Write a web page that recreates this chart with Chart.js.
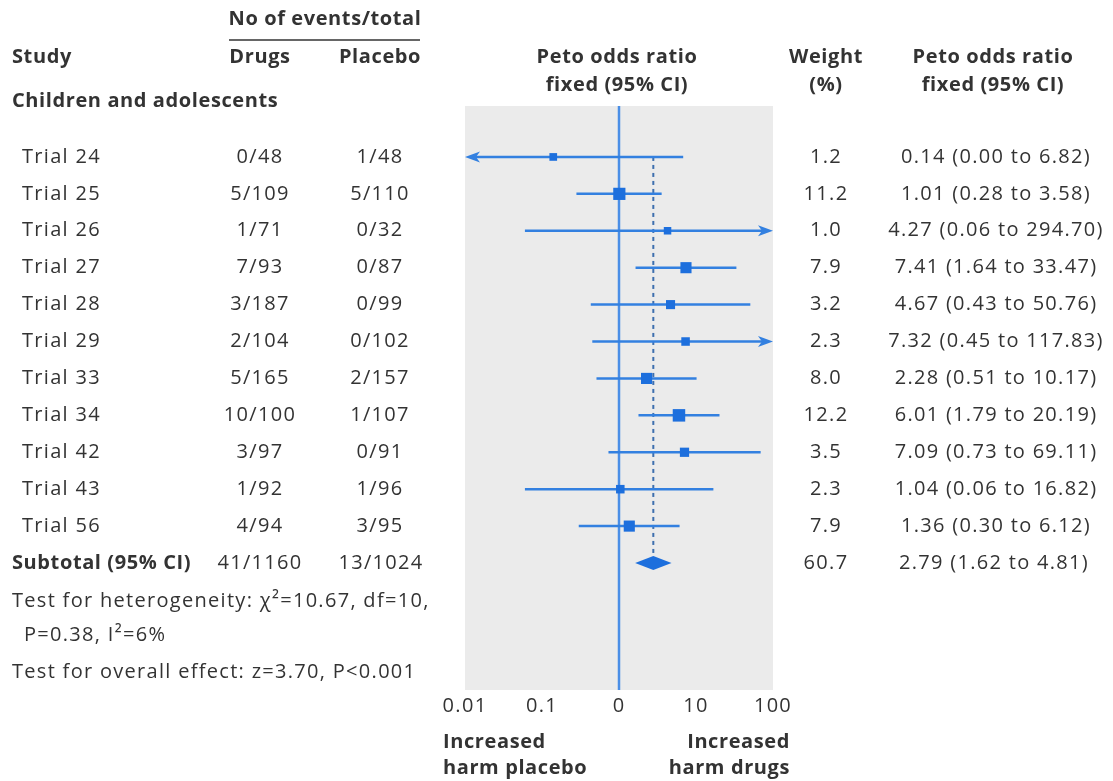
<!DOCTYPE html>
<html>
<head>
<meta charset="utf-8">
<script src="https://cdn.jsdelivr.net/npm/chart.js@4/dist/chart.umd.min.js"></script>
<style>
  html, body { margin: 0; padding: 0; background: #ffffff; }
  #wrap { position: relative; width: 1113px; height: 781px; }
</style>
</head>
<body>
<div id="wrap"><canvas id="forest" width="1113" height="781"></canvas></div>
<script>
// Trials in the children and adolescents subgroup
const studies = ['Trial 24', 'Trial 25', 'Trial 26', 'Trial 27', 'Trial 28', 'Trial 29',
                 'Trial 33', 'Trial 34', 'Trial 42', 'Trial 43', 'Trial 56'];
const drugEvents    = [0, 5, 1, 7, 3, 2, 5, 10, 3, 1, 4];
const drugTotals    = [48, 109, 71, 93, 187, 104, 165, 100, 97, 92, 94];
const placeboEvents = [1, 5, 0, 0, 0, 0, 2, 1, 0, 1, 3];
const placeboTotals = [48, 110, 32, 87, 99, 102, 157, 107, 91, 96, 95];
const weights       = [1.2, 11.2, 1.0, 7.9, 3.2, 2.3, 8.0, 12.2, 3.5, 2.3, 7.9];
const oddsRatio     = [0.14, 1.01, 4.27, 7.41, 4.67, 7.32, 2.28, 6.01, 7.09, 1.04, 1.36];
const ciLower       = [0.00, 0.28, 0.06, 1.64, 0.43, 0.45, 0.51, 1.79, 0.73, 0.06, 0.30];
const ciUpper       = [6.82, 3.58, 294.70, 33.47, 50.76, 117.83, 10.17, 20.19, 69.11, 16.82, 6.12];

// Pooled (fixed effect) result
const subtotalWeight = 60.7;
const subtotalOR = 2.79;
const subtotalLower = 1.62;
const subtotalUpper = 4.81;

// Axis ticks
const tickValues = [0.01, 0.1, 1, 10, 100];
const tickLabels = ['0.01', '0.1', '0', '10', '100'];

const FONT = '"Open Sans", "DejaVu Sans", sans-serif';
const TEXT = '#333333';
const LINE_BLUE = '#3380e0';
const MARK_BLUE = '#1d6fdd';
const SUB_ROW = studies.length;       // row index of the subtotal
const X_MIN = 0.01, X_MAX = 100;

const sum = a => a.reduce((s, v) => s + v, 0);
const fmt2 = v => v.toFixed(2);

function markerRadius(w) {
  const side = 5.5 + Math.sqrt(w) * 2;  // square side grows with weight
  return side / Math.SQRT2;
}

const points = oddsRatio.map((v, i) => ({ x: v, y: i }));

function text(ctx, str, x, y, align, bold) {
  ctx.font = (bold ? 'bold ' : '') + '20px ' + FONT;
  if ('letterSpacing' in ctx) ctx.letterSpacing = bold ? '0.6px' : '1.3px';
  ctx.textAlign = align;
  ctx.textBaseline = 'middle';
  ctx.fillStyle = TEXT;
  ctx.fillText(str, x, y);
  if ('letterSpacing' in ctx) ctx.letterSpacing = '0px';
}

const forestPlugin = {
  id: 'forest',
  beforeDraw(chart) {
    // slightly open tracking for the axis tick labels
    if ('letterSpacing' in chart.ctx) chart.ctx.letterSpacing = '1.3px';
  },
  beforeDatasetsDraw(chart) {
    const { ctx, chartArea: a, scales: { x, y } } = chart;
    if ('letterSpacing' in ctx) ctx.letterSpacing = '0px';
    ctx.save();
    // grey plotting panel
    ctx.fillStyle = '#ebebeb';
    ctx.fillRect(a.left, a.top, a.right - a.left, a.bottom - a.top);

    // line of no effect
    const x1 = x.getPixelForValue(1);
    ctx.strokeStyle = '#4a8ee6';
    ctx.lineWidth = 2.5;
    ctx.beginPath();
    ctx.moveTo(x1, a.top);
    ctx.lineTo(x1, a.bottom);
    ctx.stroke();

    // pooled estimate reference line
    const xs = x.getPixelForValue(subtotalOR);
    ctx.strokeStyle = '#3d6fae';
    ctx.lineWidth = 2;
    ctx.setLineDash([4, 4]);
    ctx.beginPath();
    ctx.moveTo(xs, y.getPixelForValue(0));
    ctx.lineTo(xs, y.getPixelForValue(SUB_ROW));
    ctx.stroke();
    ctx.setLineDash([]);

    // confidence intervals, with arrows where they run off the axis
    ctx.strokeStyle = LINE_BLUE;
    ctx.fillStyle = LINE_BLUE;
    ctx.lineWidth = 2.5;
    studies.forEach((s, i) => {
      const py = y.getPixelForValue(i);
      const loOut = !(ciLower[i] >= X_MIN);
      const hiOut = ciUpper[i] > X_MAX;
      const lx = loOut ? a.left : x.getPixelForValue(ciLower[i]);
      const hx = hiOut ? a.right : x.getPixelForValue(ciUpper[i]);
      ctx.beginPath();
      ctx.moveTo(lx + (loOut ? 8 : 0), py);
      ctx.lineTo(hx - (hiOut ? 8 : 0), py);
      ctx.stroke();
      if (loOut) {
        ctx.beginPath();
        ctx.moveTo(lx, py);
        ctx.lineTo(lx + 15, py - 5.5);
        ctx.lineTo(lx + 11, py);
        ctx.lineTo(lx + 15, py + 5.5);
        ctx.closePath();
        ctx.fill();
      }
      if (hiOut) {
        ctx.beginPath();
        ctx.moveTo(hx, py);
        ctx.lineTo(hx - 15, py - 5.5);
        ctx.lineTo(hx - 11, py);
        ctx.lineTo(hx - 15, py + 5.5);
        ctx.closePath();
        ctx.fill();
      }
    });
    ctx.restore();
  },
  afterDatasetsDraw(chart) {
    const { ctx, scales: { x, y } } = chart;
    ctx.save();
    // pooled diamond
    const py = y.getPixelForValue(SUB_ROW);
    ctx.fillStyle = MARK_BLUE;
    ctx.beginPath();
    ctx.moveTo(x.getPixelForValue(subtotalLower), py);
    ctx.lineTo(x.getPixelForValue(subtotalOR), py - 7);
    ctx.lineTo(x.getPixelForValue(subtotalUpper), py);
    ctx.lineTo(x.getPixelForValue(subtotalOR), py + 7);
    ctx.closePath();
    ctx.fill();
    ctx.restore();
  },
  afterDraw(chart) {
    const { ctx, scales: { y } } = chart;
    ctx.save();
    // column headings
    text(ctx, 'No of events/total', 325, 19, 'center', true);
    ctx.strokeStyle = TEXT;
    ctx.lineWidth = 1.5;
    ctx.beginPath();
    ctx.moveTo(229, 40);
    ctx.lineTo(420, 40);
    ctx.stroke();
    text(ctx, 'Study', 12, 57, 'left', true);
    text(ctx, 'Drugs', 260, 57, 'center', true);
    text(ctx, 'Placebo', 380, 57, 'center', true);
    text(ctx, 'Peto odds ratio', 617, 57, 'center', true);
    text(ctx, 'fixed (95% CI)', 617, 85, 'center', true);
    text(ctx, 'Weight', 826, 57, 'center', true);
    text(ctx, '(%)', 826, 85, 'center', true);
    text(ctx, 'Peto odds ratio', 993, 57, 'center', true);
    text(ctx, 'fixed (95% CI)', 993, 85, 'center', true);
    text(ctx, 'Children and adolescents', 12, 101, 'left', true);

    // study rows
    studies.forEach((s, i) => {
      const py = y.getPixelForValue(i);
      text(ctx, s, 22, py, 'left', false);
      text(ctx, drugEvents[i] + '/' + drugTotals[i], 260, py, 'center', false);
      text(ctx, placeboEvents[i] + '/' + placeboTotals[i], 380, py, 'center', false);
      text(ctx, weights[i].toFixed(1), 826, py, 'center', false);
      text(ctx, fmt2(oddsRatio[i]) + ' (' + fmt2(ciLower[i]) + ' to ' + fmt2(ciUpper[i]) + ')', 996, py, 'center', false);
    });

    // subtotal row
    const sy = y.getPixelForValue(SUB_ROW);
    text(ctx, 'Subtotal (95% CI)', 12, sy, 'left', true);
    text(ctx, sum(drugEvents) + '/' + sum(drugTotals), 260, sy, 'center', false);
    text(ctx, sum(placeboEvents) + '/' + sum(placeboTotals), 381, sy, 'center', false);
    text(ctx, subtotalWeight.toFixed(1), 826, sy, 'center', false);
    text(ctx, fmt2(subtotalOR) + ' (' + fmt2(subtotalLower) + ' to ' + fmt2(subtotalUpper) + ')', 994, sy, 'center', false);

    // heterogeneity and overall effect
    text(ctx, 'Test for heterogeneity: \u03C7\u00B2=10.67, df=10,', 12, 601, 'left', false);
    text(ctx, 'P=0.38, I\u00B2=6%', 24, 635, 'left', false);
    text(ctx, 'Test for overall effect: z=3.70, P<0.001', 12, 672, 'left', false);

    // direction labels
    text(ctx, 'Increased', 443, 742, 'left', true);
    text(ctx, 'harm placebo', 443, 768, 'left', true);
    text(ctx, 'Increased', 790, 742, 'right', true);
    text(ctx, 'harm drugs', 790, 768, 'right', true);
    ctx.restore();
  }
};

new Chart(document.getElementById('forest'), {
  type: 'scatter',
  data: {
    datasets: [{
      label: 'Peto odds ratio',
      data: points,
      pointStyle: 'rect',
      pointRadius: weights.map(markerRadius),
      pointHoverRadius: weights.map(markerRadius),
      backgroundColor: MARK_BLUE,
      borderColor: MARK_BLUE,
      borderWidth: 0
    }]
  },
  options: {
    responsive: false,
    animation: false,
    events: [],
    layout: { padding: { left: 465, right: 340, top: 106, bottom: 61 } },
    plugins: { legend: { display: false }, tooltip: { enabled: false } },
    scales: {
      x: {
        type: 'logarithmic',
        min: X_MIN,
        max: X_MAX,
        grid: { display: false, drawTicks: false },
        border: { display: false },
        afterBuildTicks(scale) { scale.ticks = tickValues.map(v => ({ value: v })); },
        afterFit(scale) { scale.height = 30; },
        ticks: {
          padding: 4,
          autoSkip: false,
          maxRotation: 0,
          color: TEXT,
          font: { family: FONT, size: 20 },
          callback: (v, i) => tickLabels[i]
        }
      },
      y: {
        type: 'linear',
        reverse: true,
        min: -1.38,
        max: 14.44,
        display: false
      }
    }
  },
  plugins: [forestPlugin]
});
</script>
</body>
</html>
